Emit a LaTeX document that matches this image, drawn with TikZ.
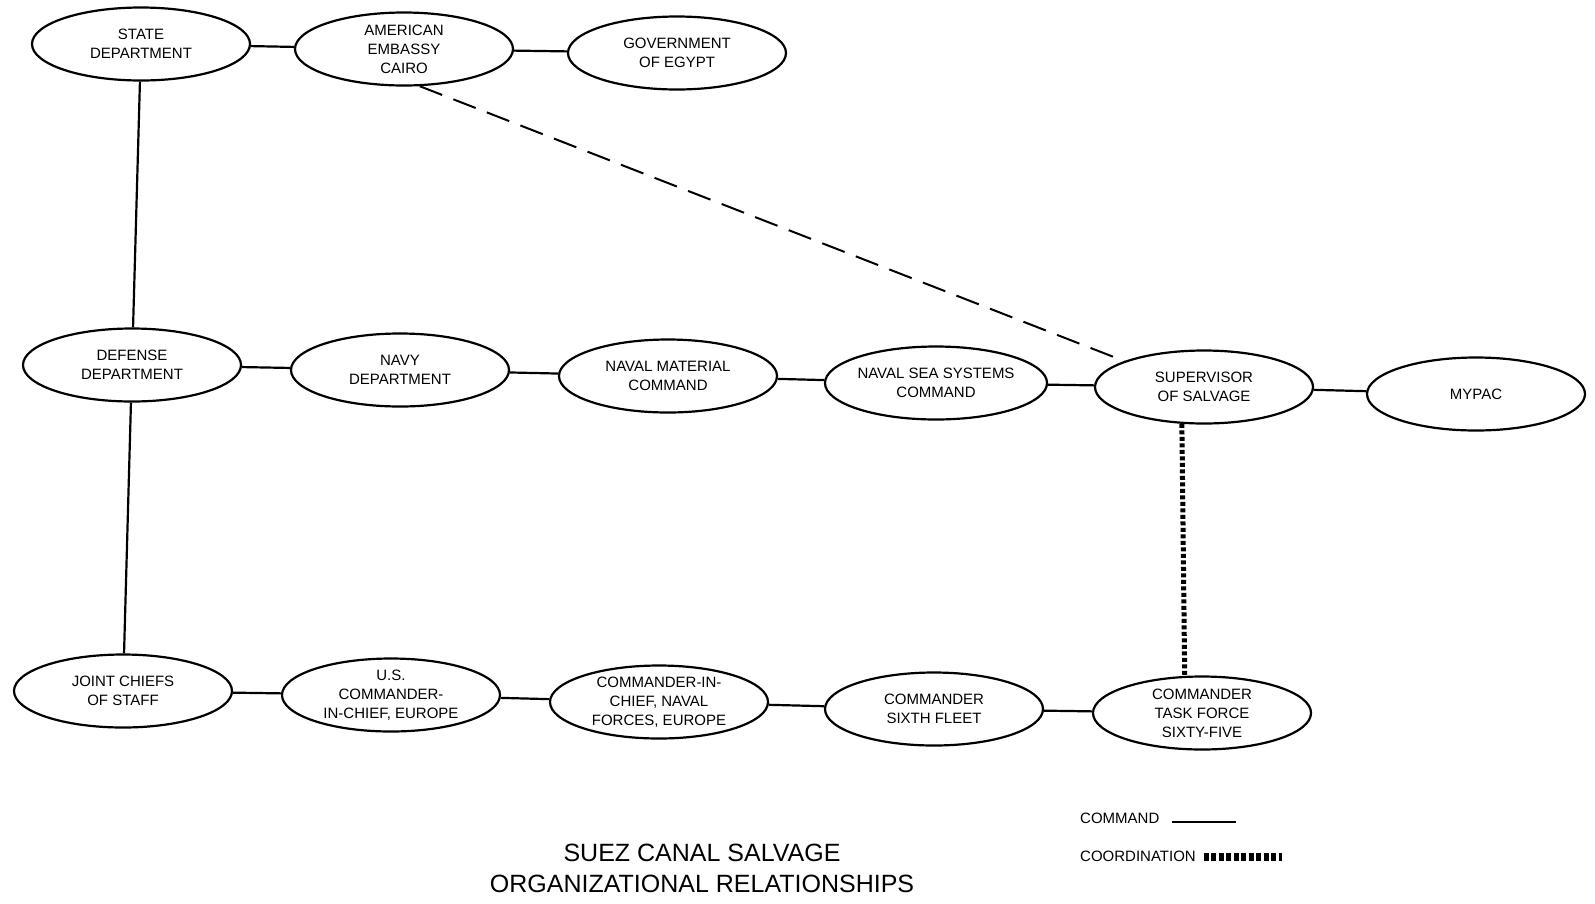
\documentclass[tikz,border=0pt]{standalone}
\usepackage{fontspec}
\setmainfont{Liberation Sans}
\usepackage{tikz}
\usetikzlibrary{shapes.geometric}

\begin{document}
\begin{tikzpicture}[x=1pt,y=-1pt,node distance=268pt]
\tikzstyle{org} = [ellipse, draw, line width=2.2pt, minimum width=218pt, minimum height=73pt, inner sep=0pt, align=center, font=\fontsize{15}{19}\selectfont]
\tikzstyle{command} = [line width=2.2pt]
\tikzstyle{liaison} = [line width=2pt, dash pattern=on 24pt off 12pt]
\tikzstyle{coord} = [line width=5pt, dash pattern=on 4pt off 2.5pt]
\tikzstyle{legend} = [anchor=west, inner sep=0pt, font=\fontsize{15}{19}\selectfont]

\useasboundingbox (0,0) rectangle (1595,903);

% top row
\node (state) [org] at (141,44) {STATE\\DEPARTMENT};
\node (embassy) [org, right of=state, xshift=-5pt, yshift=-5pt] {AMERICAN\\EMBASSY\\CAIRO};
\node (egypt) [org, right of=embassy, xshift=5pt, yshift=-4pt] {GOVERNMENT\\OF EGYPT};

% middle row
\node (defense) [org] at (132,365) {DEFENSE\\DEPARTMENT};
\node (navy) [org, right of=defense, yshift=-5pt] {NAVY\\DEPARTMENT};
\node (navmat) [org, right of=navy, yshift=-6pt] {NAVAL MATERIAL\\COMMAND};
\node (navsea) [org, right of=navmat, yshift=-7pt] {NAVAL SEA SYSTEMS\\COMMAND};
\node (supsalv) [org, right of=navsea, yshift=-4pt] {SUPERVISOR\\OF SALVAGE};
\node (mypac) [org, right of=supsalv, xshift=4pt, yshift=-7pt] {MYPAC};

% bottom row
\node (jcs) [org] at (123,691) {JOINT CHIEFS\\OF STAFF};
\node (uscinceur) [org, right of=jcs, yshift=-4pt] {U.S.\\COMMANDER-\\IN-CHIEF, EUROPE};
\node (cincnaveur) [org, right of=uscinceur, yshift=-7pt] {COMMANDER-IN-\\CHIEF, NAVAL\\FORCES, EUROPE};
\node (sixthflt) [org, right of=cincnaveur, xshift=7pt, yshift=-7pt] {COMMANDER\\SIXTH FLEET};
\node (ctf) [org, right of=sixthflt, yshift=-4pt] {COMMANDER\\TASK FORCE\\SIXTY-FIVE};

\draw [command] (state) -- (embassy);
\draw [command] (embassy) -- (egypt);
\draw [command] (state) -- (defense);
\draw [command] (defense) -- (jcs);
\draw [command] (defense) -- (navy);
\draw [command] (navy) -- (navmat);
\draw [command] (navmat) -- (navsea);
\draw [command] (navsea) -- (supsalv);
\draw [command] (supsalv) -- (mypac);
\draw [command] (jcs) -- (uscinceur);
\draw [command] (uscinceur) -- (cincnaveur);
\draw [command] (cincnaveur) -- (sixthflt);
\draw [command] (sixthflt) -- (ctf);

\draw [liaison] (embassy.-67) -- (supsalv.162);
\draw [coord] (supsalv.-121) -- (ctf.115);

% title and legend
\node (title) [align=center, font=\fontsize{25}{31}\selectfont] at (702,868) {SUEZ CANAL SALVAGE\\ORGANIZATIONAL RELATIONSHIPS};

\node (cmdlabel) [legend] at (1080,818) {COMMAND};
\coordinate (cmdend) at (1236,822);
\draw [command] ([xshift=12pt]cmdlabel.east |- cmdend) -- (cmdend);

\node (coordlabel) [legend] at (1080,856) {COORDINATION};
\coordinate (coordend) at (1282,857);
\draw [coord, line width=8pt, dash pattern=on 5pt off 2.5pt] ([xshift=8pt]coordlabel.east |- coordend) -- (coordend);

\end{tikzpicture}
\end{document}
